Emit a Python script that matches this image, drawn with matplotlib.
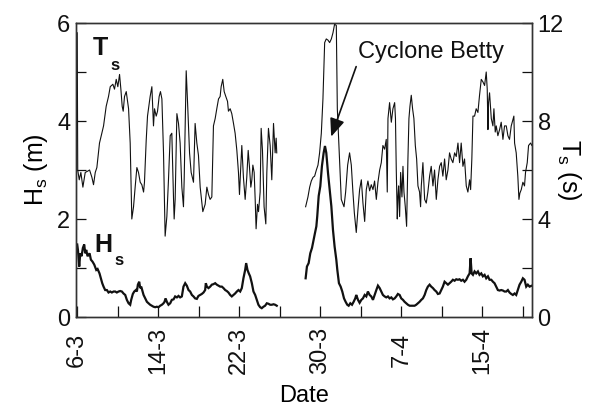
import matplotlib
matplotlib.use("Agg")
import matplotlib.pyplot as plt

plt.rcParams["font.family"] = ["Liberation Sans", "DejaVu Sans"]
plt.rcParams["mathtext.fontset"] = "custom"
plt.rcParams["mathtext.rm"] = "Liberation Sans"
plt.rcParams["mathtext.bf"] = "Liberation Sans:bold"

# Time axis: days since 6 March
tick_days = [0, 8, 16, 24, 32, 40]
tick_labels = ["6-3", "14-3", "22-3", "30-3", "7-4", "15-4"]
minor_days = [4, 12, 20, 28, 36, 44]

# Peak wave period Ts (s), record before the data gap
ts1_day = [0.00, 0.05, 0.2, 0.36, 0.56, 0.79, 1.02, 1.22, 1.45, 1.61,
           1.78, 1.94, 2.2, 2.43, 2.6, 2.86, 3.09, 3.26, 3.52, 3.68,
           3.85, 4.01, 4.18, 4.31, 4.44, 4.54, 4.67, 4.84, 5.07, 5.23,
           5.39, 5.56, 5.72, 5.89, 6.05, 6.22, 6.38, 6.55, 6.64, 6.81,
           6.94, 7.2, 7.37, 7.53, 7.63, 7.8, 7.93, 8.09, 8.22, 8.36,
           8.52, 8.68, 8.85, 9.01, 9.18, 9.34, 9.51, 9.57, 9.67, 9.84,
           10.0, 10.16, 10.33, 10.49, 10.56, 10.76, 10.92, 11.09, 11.25, 11.48,
           11.64, 11.81, 11.97, 12.14, 12.4, 12.63, 12.8, 12.96, 13.12, 13.29,
           13.45, 13.62, 13.78, 13.95, 14.11, 14.21, 14.37, 14.51, 14.67, 14.84,
           14.93, 15.1, 15.26, 15.43, 15.59, 15.76, 15.92, 16.02, 16.12, 16.25,
           16.41, 16.58, 16.74, 16.88, 17.01, 17.14, 17.24, 17.34, 17.47, 17.57,
           17.66, 17.8, 17.9, 18.06, 18.16, 18.29, 18.45, 18.62, 18.72, 18.88,
           19.05, 19.21, 19.38, 19.54, 19.64, 19.7]
ts1_val = [11.6, 6.0, 5.6, 5.9, 5.3, 5.9, 5.95, 6.0, 5.7, 5.4,
           5.9, 6.1, 7.1, 7.5, 7.8, 8.6, 9.0, 9.4, 9.5, 9.3,
           9.7, 9.4, 9.9, 9.3, 8.6, 8.4, 9.0, 9.2, 8.5, 7.1,
           4.0, 4.5, 5.3, 6.1, 5.9, 5.5, 5.4, 5.1, 5.5, 7.2,
           8.2, 9.0, 9.4, 7.8, 8.5, 8.2, 8.4, 9.0, 9.2, 8.9,
           6.7, 3.3, 4.1, 5.6, 7.4, 7.5, 4.8, 4.0, 4.8, 8.3,
           7.9, 7.1, 5.3, 4.5, 5.6, 10.05, 8.5, 6.7, 5.9, 5.5,
           7.9, 7.1, 6.6, 5.3, 4.3, 4.6, 5.3, 5.0, 4.8, 4.9,
           7.8, 8.1, 8.5, 8.9, 9.0, 9.4, 9.7, 9.2, 9.0, 8.8,
           8.4, 8.5, 8.3, 7.9, 7.5, 6.8, 5.9, 5.0, 5.9, 7.0,
           5.7, 4.8, 5.7, 6.8, 6.1, 5.3, 5.6, 6.2, 5.9, 4.8,
           3.6, 4.6, 4.3, 5.1, 7.7, 6.8, 4.5, 3.8, 5.9, 7.7,
           7.0, 5.6, 7.9, 6.7, 7.3, 6.7]

# Peak wave period Ts (s), record after the data gap
ts2_day = [22.55, 22.78, 22.95, 23.11, 23.28, 23.44, 23.61, 23.77, 23.93, 24.10,
           24.26, 24.43, 24.59, 24.76, 24.92, 25.09, 25.25, 25.41, 25.58, 25.68,
           26.07, 26.34, 26.5, 26.7, 26.89, 27.06, 27.22, 27.36, 27.55, 27.72,
           27.88, 28.05, 28.21, 28.38, 28.54, 28.7, 28.87, 29.03, 29.2, 29.36,
           29.53, 29.69, 29.86, 30.02, 30.18, 30.35, 30.51, 30.61, 30.68, 30.84,
           31.01, 31.17, 31.34, 31.42, 31.5, 31.6, 31.66, 31.73, 31.83, 31.93,
           32.06, 32.16, 32.26, 32.39, 32.52, 32.65, 32.75, 32.85, 32.98, 33.11,
           33.24, 33.38, 33.51, 33.64, 33.8, 33.9, 33.97, 34.13, 34.3, 34.46,
           34.62, 34.79, 34.95, 35.12, 35.28, 35.45, 35.61, 35.78, 35.94, 36.1,
           36.27, 36.43, 36.6, 36.76, 36.92, 37.09, 37.26, 37.42, 37.59, 37.75,
           37.91, 38.08, 38.24, 38.41, 38.57, 38.74, 38.84, 38.96, 39.07, 39.23,
           39.39, 39.56, 39.72, 39.89, 40.05, 40.22, 40.38, 40.48, 40.55, 40.61,
           40.71, 40.88, 41.04, 41.14, 41.27, 41.37, 41.53, 41.7, 41.86, 42.03,
           42.19, 42.36, 42.52, 42.68, 42.85, 43.01, 43.11, 43.18, 43.34, 43.5,
           43.61, 43.7, 43.84, 44.0, 44.16, 44.26, 44.43, 44.56, 44.76, 44.89]
ts2_val = [4.5, 4.9, 5.3, 5.55, 5.7, 5.75, 6.0, 6.2, 6.7, 7.5,
           8.9, 11.2, 11.35, 11.3, 11.2, 11.35, 11.6, 11.95, 11.9, 8.5,
           4.8, 4.5, 5.1, 6.2, 6.7, 6.2, 5.1, 4.25, 3.45, 4.4,
           5.2, 5.6, 4.65, 3.9, 5.2, 5.55, 5.15, 5.4, 5.2, 5.55,
           4.8, 5.5, 6.0, 6.3, 7.0, 6.85, 7.25, 5.1, 8.1, 8.75,
           7.95, 8.5, 8.75, 8.1, 6.0, 4.0, 4.9, 5.35, 4.1, 5.9,
           4.9, 6.15, 5.1, 4.5, 3.7, 6.45, 8.1, 8.6, 9.05, 8.5,
           8.1, 7.0, 6.45, 5.35, 5.1, 4.5, 5.35, 6.3, 4.8, 4.65,
           5.1, 5.75, 6.15, 5.35, 6.0, 4.8, 5.6, 6.15, 6.3, 5.75,
           6.45, 5.6, 6.0, 6.7, 6.45, 6.3, 6.7, 6.55, 7.1, 6.3,
           7.1, 6.15, 6.45, 5.35, 5.1, 5.6, 5.2, 6.45, 8.2, 8.2,
           8.5, 8.35, 9.05, 9.7, 9.6, 9.45, 10.0, 9.3, 7.65, 8.75,
           9.15, 8.1, 7.8, 8.5, 7.55, 7.8, 7.4, 7.65, 7.95, 7.25,
           7.8, 7.8, 7.4, 7.25, 7.8, 8.05, 8.2, 7.1, 6.7, 5.75,
           4.8, 5.05, 5.2, 5.5, 5.35, 5.9, 6.3, 7.0, 7.1, 7.0]

# Significant wave height Hs (m), record before the data gap
hs1_day = [0.0, 0.07, 0.2, 0.3, 0.43, 0.56, 0.69, 0.79, 0.89, 1.02,
           1.22, 1.35, 1.51, 1.68, 1.88, 2.01, 2.2, 2.34, 2.47, 2.6,
           2.76, 2.93, 3.09, 3.26, 3.42, 3.59, 3.75, 3.91, 4.08, 4.24,
           4.41, 4.57, 4.74, 4.9, 5.07, 5.23, 5.33, 5.49, 5.63, 5.79,
           5.89, 5.99, 6.12, 6.22, 6.32, 6.45, 6.55, 6.71, 6.88, 7.04,
           7.2, 7.37, 7.53, 7.7, 7.86, 8.03, 8.19, 8.36, 8.52, 8.62,
           8.72, 8.85, 9.01, 9.18, 9.34, 9.51, 9.67, 9.84, 10.0, 10.16,
           10.33, 10.49, 10.66, 10.82, 10.99, 11.15, 11.32, 11.48, 11.64, 11.81,
           11.97, 12.14, 12.3, 12.47, 12.63, 12.7, 12.8, 12.96, 13.13, 13.29,
           13.45, 13.62, 13.78, 13.95, 14.11, 14.28, 14.44, 14.61, 14.77, 14.93,
           15.1, 15.26, 15.43, 15.59, 15.76, 15.92, 16.09, 16.25, 16.41, 16.58,
           16.68, 16.81, 16.94, 17.07, 17.24, 17.4, 17.57, 17.73, 17.89, 18.06,
           18.22, 18.39, 18.55, 18.72, 18.88, 19.05, 19.21, 19.38, 19.54, 19.7]
hs1_val = [1.48, 1.37, 1.03, 1.30, 1.24, 1.41, 1.48, 1.30, 1.37, 1.24,
           1.30, 1.17, 1.13, 1.07, 0.96, 0.98, 0.89, 0.79, 0.69, 0.62,
           0.55, 0.55, 0.50, 0.52, 0.50, 0.52, 0.52, 0.50, 0.52, 0.53,
           0.52, 0.48, 0.45, 0.35, 0.28, 0.25, 0.35, 0.47, 0.52, 0.55,
           0.52, 0.66, 0.72, 0.59, 0.62, 0.52, 0.45, 0.38, 0.31, 0.28,
           0.25, 0.23, 0.21, 0.20, 0.21, 0.20, 0.23, 0.25, 0.28, 0.31,
           0.38, 0.31, 0.25, 0.28, 0.35, 0.36, 0.42, 0.40, 0.43, 0.40,
           0.42, 0.62, 0.69, 0.64, 0.55, 0.52, 0.45, 0.42, 0.38, 0.37,
           0.43, 0.45, 0.47, 0.50, 0.55, 0.69, 0.62, 0.59, 0.62, 0.66,
           0.67, 0.69, 0.66, 0.64, 0.62, 0.62, 0.59, 0.55, 0.53, 0.50,
           0.45, 0.42, 0.45, 0.48, 0.52, 0.55, 0.52, 0.59, 0.79, 0.96,
           1.10, 0.96, 0.89, 0.83, 0.69, 0.52, 0.45, 0.35, 0.25, 0.20,
           0.18, 0.21, 0.23, 0.28, 0.27, 0.25, 0.25, 0.26, 0.25, 0.23]

# Significant wave height Hs (m), record after the data gap
hs2_day = [22.55, 22.68, 22.85, 23.01, 23.18, 23.34, 23.47, 23.61, 23.7, 23.84,
           24.0, 24.16, 24.33, 24.46, 24.59, 24.76, 24.92, 25.09, 25.25, 25.41,
           25.58, 25.68, 25.84, 26.01, 26.17, 26.34, 26.5, 26.66, 26.8, 26.96,
           27.13, 27.29, 27.45, 27.55, 27.72, 27.88, 28.05, 28.21, 28.38, 28.54,
           28.7, 28.87, 29.03, 29.2, 29.36, 29.53, 29.69, 29.86, 30.02, 30.18,
           30.35, 30.51, 30.68, 30.84, 31.01, 31.17, 31.34, 31.5, 31.66, 31.83,
           31.99, 32.16, 32.32, 32.49, 32.65, 32.82, 32.98, 33.14, 33.31, 33.47,
           33.64, 33.8, 33.97, 34.13, 34.3, 34.46, 34.62, 34.79, 34.95, 35.12,
           35.28, 35.45, 35.61, 35.78, 35.94, 36.1, 36.27, 36.43, 36.6, 36.76,
           36.92, 37.09, 37.26, 37.42, 37.59, 37.75, 37.91, 38.08, 38.24, 38.41,
           38.57, 38.74, 38.84, 38.94, 39.07, 39.23, 39.39, 39.56, 39.72, 39.89,
           40.05, 40.22, 40.38, 40.55, 40.71, 40.88, 41.04, 41.2, 41.37, 41.53,
           41.7, 41.86, 42.03, 42.19, 42.36, 42.52, 42.68, 42.85, 43.01, 43.18,
           43.34, 43.5, 43.67, 43.84, 44.0, 44.16, 44.33, 44.49, 44.66, 44.89]
hs2_val = [0.79, 1.03, 1.10, 1.30, 1.41, 1.58, 1.71, 1.85, 2.06, 2.47,
           2.67, 3.08, 3.35, 3.49, 3.35, 2.94, 2.60, 2.26, 1.78, 1.44,
           1.17, 0.96, 0.69, 0.62, 0.52, 0.38, 0.31, 0.25, 0.23, 0.28,
           0.25, 0.31, 0.38, 0.45, 0.35, 0.29, 0.35, 0.38, 0.45, 0.42,
           0.52, 0.45, 0.42, 0.35, 0.45, 0.55, 0.64, 0.59, 0.52, 0.45,
           0.42, 0.40, 0.42, 0.38, 0.40, 0.36, 0.38, 0.42, 0.47, 0.45,
           0.38, 0.35, 0.31, 0.28, 0.25, 0.23, 0.23, 0.23, 0.23, 0.25,
           0.28, 0.31, 0.35, 0.38, 0.45, 0.55, 0.62, 0.66, 0.62, 0.59,
           0.55, 0.52, 0.47, 0.48, 0.55, 0.62, 0.72, 0.69, 0.66, 0.69,
           0.72, 0.76, 0.74, 0.77, 0.76, 0.77, 0.74, 0.76, 0.72, 0.76,
           0.83, 0.89, 1.20, 0.89, 0.86, 0.93, 0.89, 0.93, 0.86, 0.89,
           0.83, 0.86, 0.79, 0.83, 0.76, 0.76, 0.72, 0.69, 0.62, 0.55,
           0.54, 0.55, 0.54, 0.52, 0.52, 0.55, 0.50, 0.47, 0.45, 0.48,
           0.45, 0.55, 0.66, 0.72, 0.79, 0.76, 0.62, 0.66, 0.62, 0.64]

# Cyclone annotation: arrow tip and tail on the Ts axis (day, s)
betty_tip = (25.07, 7.36)
betty_tail = (27.54, 10.22)

INK = "#111111"
FS = 17

fig = plt.figure(figsize=(5.89, 4.09), dpi=100)
ax = fig.add_axes([76 / 589, 1 - 317 / 409, 456 / 589, 294 / 409])
ax2 = ax.twinx()

ax.plot(hs1_day, hs1_val, color=INK, lw=1.6, solid_joinstyle="miter")
ax.plot(hs2_day, hs2_val, color=INK, lw=1.6, solid_joinstyle="miter")
ax2.plot(ts1_day, ts1_val, color=INK, lw=0.8)
ax2.plot(ts2_day, ts2_val, color=INK, lw=0.8)

ax.set_xlim(-0.12, 44.9)
ax.set_ylim(0, 6)
ax2.set_ylim(0, 12)

ax.set_xticks(tick_days)
ax.set_xticklabels(tick_labels)
ax.set_xticks(minor_days, minor=True)
ax.set_yticks([0, 2, 4, 6])
ax.set_yticks([1, 3, 5], minor=True)
ax2.set_yticks([0, 4, 8, 12])
ax2.set_yticks([2, 6, 10], minor=True)

ax.tick_params(axis="x", which="both", direction="in", length=8, width=0.9,
               top=False, labelsize=FS, labelrotation=90, pad=24, colors=INK)
ax.tick_params(axis="y", which="both", direction="in", length=7, width=0.9,
               labelsize=FS, pad=4, colors=INK)
ax2.tick_params(axis="y", which="both", direction="in", length=7, width=0.9,
                labelsize=FS, pad=4, colors=INK)
for lbl in ax.get_xticklabels():
    lbl.set_va("center")

for a in (ax, ax2):
    for s in a.spines.values():
        s.set_linewidth(1.0)
        s.set_color("#333333")

ax.set_xlabel("Date", fontsize=17)
ax.xaxis.set_label_coords(0.5, -0.268)
ax.xaxis.label.set_va("center")

ax.set_ylabel(r"H$_\mathregular{s}$ (m)", fontsize=18)
ax.yaxis.set_label_coords(-0.056, 0.5)
ax2.set_ylabel(r"T$_\mathregular{s}$ (s)", fontsize=18, rotation=270, va="bottom")
ax2.yaxis.set_label_coords(1.05, 0.5)

# Series tags inside the plot
ax.text(1.55, 5.35, "T", fontsize=18, fontweight="bold", color=INK)
ax.text(3.3, 5.04, "s", fontsize=12, fontweight="bold", color=INK)
ax.text(1.65, 1.33, "H", fontsize=18, fontweight="bold", color=INK)
ax.text(3.7, 1.06, "s", fontsize=12, fontweight="bold", color=INK)

ax2.text(27.7, 10.57, "Cyclone Betty", fontsize=FS, color=INK)
ax2.annotate("", xy=betty_tip, xytext=betty_tail,
             arrowprops=dict(arrowstyle="-|>,head_length=1.1,head_width=0.45",
                             mutation_scale=10, color=INK, lw=1.2,
                             shrinkA=0, shrinkB=0))

fig.savefig("out.png", dpi=100)
